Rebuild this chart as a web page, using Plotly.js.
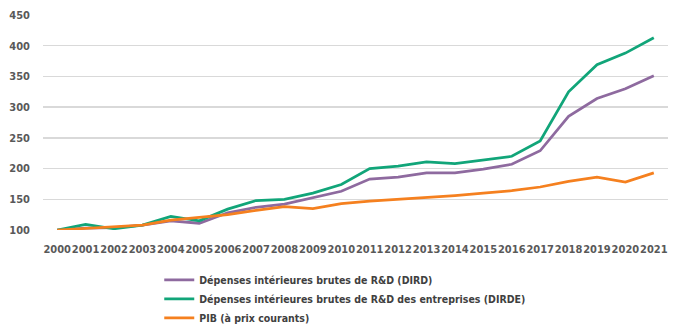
<!DOCTYPE html>
<html>
<head>
<meta charset="utf-8">
<script src="https://cdn.plot.ly/plotly-3.0.1.min.js"></script>
<style>
html,body{margin:0;padding:0;background:#fff;}
#chart{width:700px;height:334px;}
</style>
</head>
<body>
<div id="chart"></div>
<script>
const years = ["2000","2001","2002","2003","2004","2005","2006","2007","2008","2009","2010",
               "2011","2012","2013","2014","2015","2016","2017","2018","2019","2020","2021"];
const dird  = [100,103,104,108,115,111,128,137,142,152,163,183,186,193,193,199,207,229,285,314,330,351];
const dirde = [100,109,102,108,122,115,134,148,150,160,174,200,204,211,208,214,220,245,325,369,388,413];
const pib   = [100,103,106,108,116,121,125,132,138,135,143,147,150,152,156,160,164,170,179,186,178,193];
const names = ["Dépenses intérieures brutes de R&D (DIRD)",
               "Dépenses intérieures brutes de R&D des entreprises (DIRDE)",
               "PIB (à prix courants)"];
const colors = ["#8E6A9F", "#11A579", "#F5801F"];
const series = [dird, dirde, pib];
const yTicks = [100,150,200,250,300,350,400,450];

const font = "'DejaVu Sans Condensed', 'DejaVu Sans', sans-serif";
const traces = series.map((s, i) => ({
  type: "scatter", mode: "lines", x: years, y: s, name: names[i],
  line: {color: colors[i], width: 2.75}
}));

const layout = {
  width: 700, height: 334,
  margin: {l: 43, r: 32, t: 15, b: 104, autoexpand: false},
  paper_bgcolor: "#fff", plot_bgcolor: "#fff",
  showlegend: true,
  legend: {x: 0.186, y: -0.165, xanchor: "left", yanchor: "top", orientation: "v",
           font: {family: font, size: 10.5, color: "#404040", weight: "bold"},
           tracegroupgap: 0, itemwidth: 30},
  xaxis: {type: "category", range: [-0.5, 21.5], showgrid: false, zeroline: false,
          showline: false, tickangle: 0, ticks: "", ticklabelstandoff: 11,
          tickfont: {family: font, size: 11, color: "#595959", weight: "bold"}},
  yaxis: {range: [100, 450], tickvals: yTicks, showgrid: true, gridcolor: "#D9D9D9",
          gridwidth: 1.5, zeroline: false, showline: false, ticks: "",
          ticklabelstandoff: 12,
          tickfont: {family: font, size: 11, color: "#595959", weight: "bold"}}
};
Plotly.newPlot("chart", traces, layout, {displayModeBar: false, staticPlot: true});
</script>
</body>
</html>
